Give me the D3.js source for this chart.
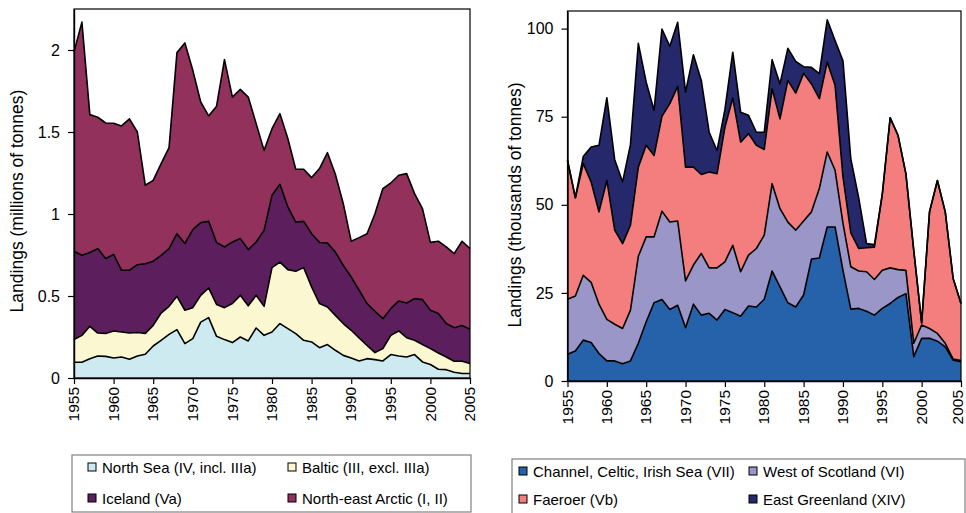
<!DOCTYPE html>
<html><head><meta charset="utf-8">
<script src="https://cdn.jsdelivr.net/npm/d3@7"></script>
<style>
body{margin:0;background:#fff}
svg{display:block}
text{font-family:"Liberation Sans",Arial,sans-serif;fill:#000}
</style>
</head><body>
<svg id="c" width="966" height="513"></svg>
<script>
const years = [1955,1956,1957,1958,1959,1960,1961,1962,1963,1964,1965,1966,1967,1968,1969,1970,1971,1972,1973,1974,1975,1976,1977,1978,1979,1980,1981,1982,1983,1984,1985,1986,1987,1988,1989,1990,1991,1992,1993,1994,1995,1996,1997,1998,1999,2000,2001,2002,2003,2004,2005];
const xTicks = [1955,1960,1965,1970,1975,1980,1985,1990,1995,2000,2005];

// Left chart (millions of tonnes)
const northSea = [.096,.096,.118,.134,.132,.122,.128,.114,.134,.145, .195,.230,.266,.295,.210,.240,.341,.368,.254,.234, .216,.250,.226,.305,.260,.280,.332,.301,.271,.230, .220,.185,.204,.169,.138,.122,.104,.118,.112,.104, .143,.134,.128,.143,.098,.082,.053,.051,.035,.027, .027];
const baltic = [.138,.164,.197,.140,.139,.165,.152,.160,.143,.126, .126,.166,.171,.203,.203,.189,.163,.181,.194,.195, .238,.254,.214,.199,.177,.393,.375,.360,.380,.443, .335,.269,.229,.213,.194,.169,.140,.081,.043,.075, .117,.153,.118,.087,.106,.097,.099,.077,.067,.075, .061];
const iceland = [.539,.488,.450,.515,.457,.467,.377,.383,.414,.426, .391,.352,.352,.382,.407,.476,.444,.406,.378,.370, .375,.346,.343,.325,.463,.441,.474,.382,.300,.282, .325,.372,.390,.386,.355,.325,.291,.255,.252,.183, .163,.183,.211,.254,.274,.234,.241,.204,.205,.218, .209];
const northEastArctic = [1.215,1.422,.841,.801,.827,.799,.880,.923,.809,.478, .493,.559,.616,1.104,1.223,.971,.735,.643,.831,1.142, .884,.910,.930,.722,.488,.406,.431,.417,.322,.318, .342,.451,.551,.474,.376,.218,.321,.426,.595,.793, .766,.766,.789,.640,.555,.414,.441,.467,.451,.514, .492];
const leftTicks = [0,0.5,1,1.5,2];
const leftNames = ["North Sea (IV, incl. IIIa)","Baltic (III, excl. IIIa)","Iceland (Va)","North-east Arctic (I, II)"];
const leftColors = ["#cdeaf0","#fbf7d1","#5d1e5e","#92315c"];

// Right chart (thousands of tonnes)
const channel = [7.6,8.5,11.6,10.9,7.8,5.7,5.7,4.9,5.7,10.7, 16.8,22.2,23.1,20.3,21.5,15.1,21.8,18.7,19.2,17.3, 20.3,19.4,18.4,21.3,21.0,23.2,31.2,26.7,22.2,21.0, 24.4,34.6,34.9,43.7,43.7,31.4,20.4,20.6,19.8,18.7, 20.6,22.0,23.7,24.8,6.9,12.1,12.1,11.3,9.7,5.9, 5.5];
const westScotland = [15.6,15.6,18.4,17.1,14.0,11.8,10.4,10.0,14.4,24.7, 24.1,18.7,25.1,24.8,23.9,13.3,11.1,17.5,12.9,14.8, 13.5,19.1,12.6,14.4,16.6,18.2,24.8,22.2,22.9,21.8, 21.0,13.4,19.7,21.3,16.1,13.4,12.0,10.6,11.2,10.1, 10.8,10.1,7.9,6.6,3.8,3.8,2.8,2.2,1.0,0.3, 0.3];
const faeroer = [39.4,27.9,31.7,28.5,26.2,39.4,26.7,24.1,24.1,25.3, 26.0,23.1,26.9,33.6,38.2,32.3,27.8,22.4,27.2,26.7, 38.2,41.8,36.8,34.5,29.3,24.3,26.9,25.5,40.2,38.9, 41.9,36.3,25.5,25.5,24.1,13.2,9.6,6.4,6.8,9.2, 21.6,42.6,38.1,27.4,26.3,0.6,33.1,43.4,37.3,22.9, 16.2];
const eastGreenland = [0,0,2.0,9.9,18.9,23.5,20.0,17.5,22.9,35.1, 17.9,12.8,24.8,16.3,18.2,21.3,31.9,26.7,11.3,6.6, 5.0,13.0,8.5,5.2,3.7,4.9,8.3,9.9,9.1,9.0, 1.9,4.7,7.1,12.0,12.7,32.9,21.0,14.4,1.2,0.7, 0,0,0,0,0,0,0,0,0,0, 0];
const rightTicks = [0,25,50,75,100];
const rightNames = ["Channel, Celtic, Irish Sea (VII)","West of Scotland (VI)","Faeroer (Vb)","East Greenland (XIV)"];
const rightColors = ["#2662aa","#9a96c8","#f47e7e","#26286c"];

const svg = d3.select("#c");
const W = +svg.attr("width");

function drawChart(cfg){
  const g = svg.append("g");
  const x = d3.scaleLinear().domain([1955,2005]).range([cfg.x0,cfg.x1]);
  const y = d3.scaleLinear().domain([0,cfg.ymax]).range([cfg.y0,cfg.y1]);
  const keys = cfg.series.map((s,i)=>"s"+i);
  const table = years.map((yr,j)=>{const o={year:yr}; cfg.series.forEach((s,i)=>o["s"+i]=s[j]); return o;});
  const stacked = d3.stack().keys(keys)(table);
  const area = d3.area().x(d=>x(d.data.year)).y0(d=>y(d[0])).y1(d=>y(d[1]));
  const line = d3.line().x(d=>x(d.data.year)).y(d=>y(d[1]));
  g.selectAll("path.a").data(stacked).join("path").attr("class","a")
    .attr("d",area).attr("fill",(d,i)=>cfg.colors[i]).attr("stroke","none");
  g.selectAll("path.l").data(stacked).join("path").attr("class","l")
    .attr("d",line).attr("fill","none").attr("stroke","#000").attr("stroke-width",1.6).attr("stroke-linejoin","round");
  // frame
  g.append("rect").attr("x",cfg.x0).attr("y",cfg.y1).attr("width",cfg.x1-cfg.x0).attr("height",cfg.y0-cfg.y1)
    .attr("fill","none").attr("stroke","#000").attr("stroke-width",1.2);
  // y axis
  const ya = g.append("g").attr("transform",`translate(${cfg.x0},0)`)
    .call(d3.axisLeft(y).tickValues(cfg.yTicks).tickFormat(d=>String(d)).tickSize(6).tickPadding(8).tickSizeOuter(0));
  ya.select(".domain").attr("stroke","#000").attr("stroke-width",1.4);
  ya.selectAll("text").style("font-size","16px");
  ya.selectAll("line").attr("stroke-width",1.2);
  // x axis
  const xa = g.append("g").attr("transform",`translate(0,${cfg.y0})`)
    .call(d3.axisBottom(x).tickValues(xTicks).tickFormat(d3.format("d")).tickSize(6).tickPadding(8).tickSizeOuter(0));
  xa.select(".domain").attr("stroke","#000").attr("stroke-width",1.6);
  xa.selectAll("line").attr("stroke-width",1.2);
  xa.selectAll("text").style("font-size","15.5px")
    .attr("transform",d=> (x(d)+8 > W) ? `translate(${W-8-x(d)},0) rotate(-90)` : "rotate(-90)")
    .attr("text-anchor","end").attr("x",-9).attr("y",0).attr("dy","0.3em");
  // y title
  g.append("text").attr("transform",`translate(${cfg.titleX},${cfg.titleY}) rotate(-90)`)
    .attr("text-anchor","middle").style("font-size","17.5px").text(cfg.title);
  // legend
  g.append("rect").attr("x",cfg.lg.x).attr("y",cfg.lg.y).attr("width",cfg.lg.w).attr("height",cfg.lg.h)
    .attr("fill","#fff").attr("stroke","#808080").attr("stroke-width",1.2);
  cfg.names.forEach((n,i)=>{
    const cx = cfg.lg.cols[i%2], cy = cfg.lg.rows[Math.floor(i/2)];
    g.append("rect").attr("x",cx).attr("y",cy-4).attr("width",8).attr("height",8)
      .attr("fill",cfg.colors[i]).attr("stroke","#000").attr("stroke-width",1);
    g.append("text").attr("x",cx+14).attr("y",cy+5.5).style("font-size","15px").text(n);
  });
}

drawChart({x0:74,x1:470,y0:378,y1:9,ymax:2.25,yTicks:leftTicks,
  series:[northSea,baltic,iceland,northEastArctic],colors:leftColors,names:leftNames,
  title:"Landings (millions of tonnes)",titleX:22.5,titleY:201,
  lg:{x:72,y:455,w:399,h:57,cols:[88,288],rows:[467,498]}});

drawChart({x0:567.5,x1:961,y0:381,y1:11,ymax:105,yTicks:rightTicks,
  series:[channel,westScotland,faeroer,eastGreenland],colors:rightColors,names:rightNames,
  title:"Landings (thousands of tonnes)",titleX:521,titleY:205,
  lg:{x:512,y:459,w:453,h:70,cols:[519,749],rows:[471,499]}});
</script>
</body></html>
